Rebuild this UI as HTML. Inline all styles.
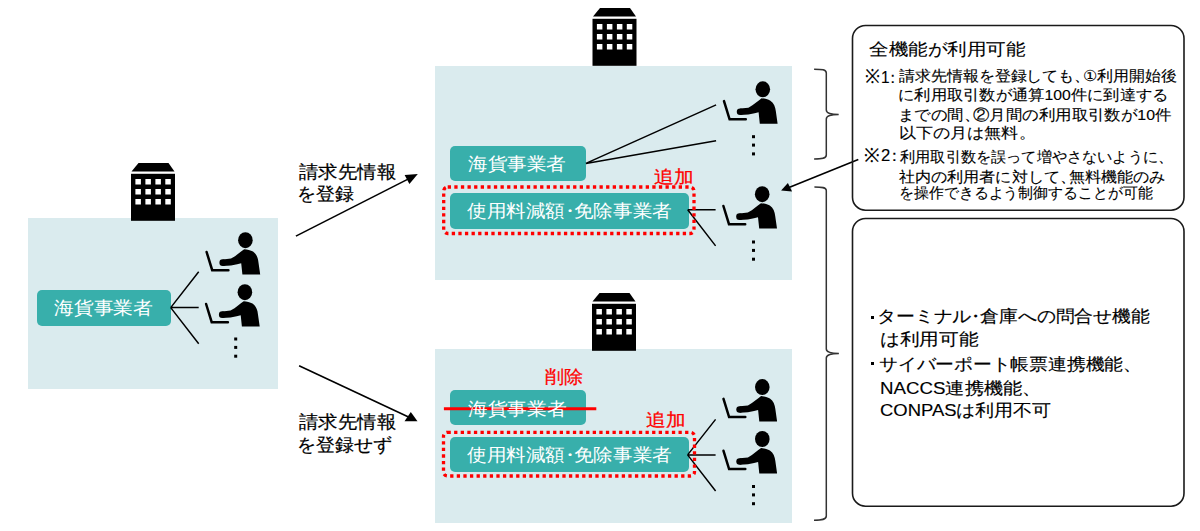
<!DOCTYPE html>
<html><head><meta charset="utf-8">
<style>
html,body{margin:0;padding:0;background:#fff;}
body{width:1200px;height:531px;position:relative;overflow:hidden;font-family:"Liberation Sans",sans-serif;}
.t{position:absolute;white-space:nowrap;line-height:1;transform-origin:0 0;}
.hw{margin:0 -0.27em;}
.hwr{margin-right:-0.45em;}
.bg{position:absolute;background:#DAEBEE;}
.tb{position:absolute;background:#38AFAB;border-radius:5px;}
.w{color:#fff;}
.r{color:#f00;-webkit-text-stroke:0.25px #f00;}
.k{color:#000;-webkit-text-stroke:0.2px #000;}
.ks{-webkit-text-stroke:0.12px #000;}
.kt{-webkit-text-stroke:0.1px #000;}
.ku{-webkit-text-stroke:0.15px #000;}
svg{position:absolute;left:0;top:0;}
</style></head><body>
<div class="bg" style="left:28px;top:218px;width:250px;height:171px"></div>
<div class="bg" style="left:435px;top:66px;width:357px;height:214px"></div>
<div class="bg" style="left:435px;top:349px;width:357px;height:174px"></div>

<div class="tb" style="left:36.5px;top:290px;width:134.5px;height:35.6px"></div>
<div class="tb" style="left:450px;top:146px;width:136px;height:35px"></div>
<div class="tb" style="left:449.5px;top:193.3px;width:239px;height:35.3px"></div>
<div class="tb" style="left:449.6px;top:389.9px;width:136px;height:35.1px"></div>
<div class="tb" style="left:449.6px;top:437.4px;width:239px;height:34.6px"></div>

<svg width="1200" height="531" viewBox="0 0 1200 531">
<defs>
<g id="bld">
<path d="M7.5 0 H37.5 L43.5 8.5 H0.5 Z" fill="#000"/>
<rect x="0" y="10.8" width="44" height="47" fill="#000"/>
<g fill="#fff">
<rect x="4.4" y="16" width="5.5" height="5.5"/><rect x="14.4" y="16" width="5.5" height="5.5"/><rect x="24.4" y="16" width="5.5" height="5.5"/><rect x="34.3" y="16" width="5.5" height="5.5"/>
<rect x="4.4" y="26" width="5.5" height="5.5"/><rect x="14.4" y="26" width="5.5" height="5.5"/><rect x="24.4" y="26" width="5.5" height="5.5"/><rect x="34.3" y="26" width="5.5" height="5.5"/>
<rect x="4.4" y="36" width="5.5" height="5.5"/><rect x="14.4" y="36" width="5.5" height="5.5"/><rect x="24.4" y="36" width="5.5" height="5.5"/><rect x="34.3" y="36" width="5.5" height="5.5"/>
</g>
</g>
<g id="per">
<ellipse cx="45.4" cy="12.2" rx="7.3" ry="8" fill="#000"/>
<path d="M44.2 21.2 C47 21.6 50.8 22.1 53 23.6 C56.5 26 58 30 58.4 33.9 L60.2 46.6 H42.4 L41.2 35.2 L37.2 36.2 L31 37.4 L22.8 37.9 L22.8 31.4 L31 30.6 L35 28.2 L41.4 23.3 Z" fill="#000"/>
<circle cx="22.7" cy="34.65" r="3.3" fill="#000"/>
<path d="M6.6 24 L12.2 42.2 H28.4" stroke="#000" stroke-width="2.5" fill="none" stroke-linecap="round" stroke-linejoin="miter"/>
</g>
<g id="dots" fill="#000">
<rect x="0" y="0" width="3" height="3"/><rect x="0" y="8.4" width="3" height="3"/><rect x="0" y="17.2" width="3" height="3"/>
</g>
</defs>
<use href="#bld" x="131" y="163"/>
<use href="#bld" x="592.5" y="8"/>
<use href="#bld" x="592" y="293"/>

<use href="#per" x="200" y="228"/>
<use href="#per" x="199.5" y="280"/>
<use href="#per" x="717.4" y="77.1"/>
<use href="#per" x="716.8" y="182"/>
<use href="#per" x="716.9" y="374.9"/>
<use href="#per" x="716.9" y="426.8"/>

<use href="#dots" x="234.2" y="337.5"/>
<use href="#dots" x="752" y="135.2"/>
<use href="#dots" x="752" y="240.5"/>
<use href="#dots" x="752" y="485"/>

<g stroke="#000" stroke-width="1.5" fill="none">
<path d="M170.7 307.6 L198.7 271.7 M170.7 307.6 H198.7 M170.7 307.6 L198.7 343.7"/>
<path d="M585.9 163.4 L716.1 104.9 M585.9 163.4 L716.1 140.8"/>
<path d="M687.7 209.7 H715.6 M687.7 209.7 L715.6 245.9"/>
<path d="M687.6 454.9 L715.6 419.4 M687.6 454.9 H715.6 M687.6 454.9 L715.6 491"/>
</g>
<g stroke="#000" stroke-width="1.6" fill="none">
<path d="M295.9 236.1 L409 178.6"/>
<path d="M299.1 365.8 L408 416.8"/>
<path d="M858.3 159.6 L789 187.4"/>
</g>
<g fill="#000">
<path d="M417.8 174.1 L404.6 175 L409.4 184 Z"/>
<path d="M417.5 421.3 L404.5 421.3 L410.8 412 Z"/>
<path d="M781.1 190.6 L787.9 183.1 L792.1 191.5 Z"/>
</g>
<g stroke="#1a1a1a" stroke-width="1.6" fill="none">
<rect x="852.5" y="25.5" width="331.5" height="184.7" rx="13" ry="13"/>
<rect x="852.5" y="218.5" width="331.5" height="287.7" rx="13" ry="13"/>
</g>
<g stroke="#333" stroke-width="1.5" fill="none">
<path d="M814.1 69.3 C822 69.3 826.3 69.5 826.3 73 V110 C826.3 113 830 114.5 838.7 114.5 C830 114.5 826.3 116 826.3 119 V155 C826.3 158.5 822 159 814.1 159"/>
<path d="M814.4 186.9 C822 186.9 826.3 187.2 826.3 190.5 V349 C826.3 352 830 353.4 838.9 353.4 C830 353.4 826.3 355 826.3 358 V516 C826.3 519.5 822 520.2 814 520.2"/>
</g>
<g stroke="#f00" stroke-width="3.3" fill="none" stroke-dasharray="3.3 3.3">
<rect x="443.7" y="187" width="250.3" height="46.5" rx="4"/>
<rect x="443.5" y="432.3" width="251" height="43.7" rx="4"/>
</g>
<path d="M443.9 408.7 H596.3" stroke="#f00" stroke-width="3"/>
</svg>

<div class="bul" style="position:absolute;left:871.4px;top:315.8px;width:3px;height:3px;background:#000"></div>
<div class="bul" style="position:absolute;left:871.4px;top:361.8px;width:3px;height:3px;background:#000"></div>
<div class="t w" id="tL" style="left:53.83px;top:299.30px;font-size:18px;transform:scaleX(1.1012)">海貨事業者</div>
<div class="t w" id="tU1" style="left:467.99px;top:155.00px;font-size:18px;transform:scaleX(1.0900)">海貨事業者</div>
<div class="t w" id="tU2" style="left:466.83px;top:202.45px;font-size:18px;transform:scaleX(1.0872)">使用料減額<span class="hw">・</span>免除事業者</div>
<div class="t w" id="tD1" style="left:467.70px;top:400.00px;font-size:18px;transform:scaleX(1.0968)">海貨事業者</div>
<div class="t w" id="tD2" style="left:466.83px;top:446.40px;font-size:18px;transform:scaleX(1.0872)">使用料減額<span class="hw">・</span>免除事業者</div>
<div class="t r" id="rU" style="left:654.03px;top:168.10px;font-size:18px;transform:scaleX(1.0974)">追加</div>
<div class="t r" id="rD" style="left:646.07px;top:411.20px;font-size:18px;transform:scaleX(1.0974)">追加</div>
<div class="t r" id="rDel" style="left:544.94px;top:367.70px;font-size:18px;transform:scaleX(1.0611)">削除</div>
<div class="t k" id="a1" style="left:298.59px;top:163.90px;font-size:17.5px;transform:scaleX(1.0766)">請求先情報</div>
<div class="t k" id="a2" style="left:296.60px;top:186.00px;font-size:17.5px;transform:scaleX(1.0504)">を登録</div>
<div class="t k" id="a3" style="left:298.59px;top:413.90px;font-size:17.5px;transform:scaleX(1.0766)">請求先情報</div>
<div class="t k" id="a4" style="left:296.61px;top:436.50px;font-size:17.5px;transform:scaleX(1.0502)">を登録せず</div>
<div class="t k kt" id="ti" style="left:869.28px;top:40.60px;font-size:17px;transform:scaleX(1.1496)">全機能が利用可能</div>
<div class="t k ks" id="p1s" style="left:865.00px;top:67.00px;font-size:19.5px;transform:scaleX(0.9181)">※</div>
<div class="t k ks" id="p1" style="left:880.78px;top:69.90px;font-size:16px;transform:scaleX(0.9642)">1<span class="hw">：</span></div>
<div class="t k ks" id="p2s" style="left:864.21px;top:146.00px;font-size:19.5px;transform:scaleX(0.9603)">※</div>
<div class="t k ks" id="p2" style="left:880.69px;top:148.25px;font-size:16px;transform:scaleX(1.0409)">2<span class="hw">：</span></div>
<div class="t k ks" id="b1" style="left:899.12px;top:69.30px;font-size:14.5px;transform:scaleX(1.0621)">請求先情報を登録しても<span class="hwr">、</span>①利用開始後</div>
<div class="t k ks" id="b2" style="left:898.49px;top:87.60px;font-size:14.5px;transform:scaleX(1.0854)">に利用取引数が通算100件に到達する</div>
<div class="t k ks" id="b3" style="left:897.87px;top:107.90px;font-size:14.5px;transform:scaleX(1.0955)">までの間<span class="hwr">、</span>②月間の利用取引数が10件</div>
<div class="t k ks" id="b4" style="left:898.86px;top:126.00px;font-size:14.5px;transform:scaleX(1.1381)">以下の月は無料。</div>
<div class="t k ks" id="b5" style="left:899.50px;top:149.60px;font-size:14.5px;transform:scaleX(1.0115)">利用取引数を誤って増やさないように、</div>
<div class="t k ks" id="b6" style="left:899.46px;top:169.90px;font-size:14.5px;transform:scaleX(1.0721)">社内の利用者に対して<span class="hwr">、</span>無料機能のみ</div>
<div class="t k ks" id="b7" style="left:898.81px;top:186.30px;font-size:14.5px;transform:scaleX(0.9945)">を操作できるよう制御することが可能</div>
<div class="t k ku" id="u1" style="left:876.78px;top:307.80px;font-size:16.5px;transform:scaleX(1.1082)">ターミナル<span class="hw">・</span>倉庫への問合せ機能</div>
<div class="t k ku" id="u2" style="left:879.85px;top:331.00px;font-size:16.5px;transform:scaleX(1.1549)">は利用可能</div>
<div class="t k ku" id="u3" style="left:879.03px;top:355.50px;font-size:16.5px;transform:scaleX(1.1049)">サイバーポート帳票連携機能、</div>
<div class="t k ku" id="u4" style="left:879.87px;top:380.20px;font-size:16.5px;transform:scaleX(1.1323)">NACCS連携機能、</div>
<div class="t k ku" id="u5" style="left:879.88px;top:402.00px;font-size:16.5px;transform:scaleX(1.1172)">CONPASは利用不可</div>
</body></html>
